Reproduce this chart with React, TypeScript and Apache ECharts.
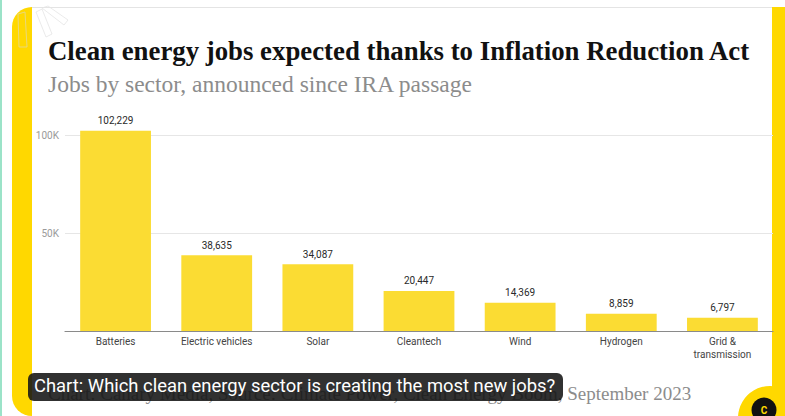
import React, { useEffect, useRef } from "react";
import * as echarts from "echarts";

const categories = [
  "Batteries",
  "Electric vehicles",
  "Solar",
  "Cleantech",
  "Wind",
  "Hydrogen",
  "Grid &\ntransmission",
];
const jobs = [102229, 38635, 34087, 20447, 14369, 8859, 6797];
const yMin = 0;
const yMax = 100000;
const yInterval = 50000;

const titleText = "Clean energy jobs expected thanks to Inflation Reduction Act";
const subtitleText = "Jobs by sector, announced since IRA passage";
const sourceText =
  "Chart: Canary Media, Source: Climate Power, Clean Energy Boom, September 2023";
const captionText = "Chart: Which clean energy sector is creating the most new jobs?";

const FRAME = "#FFD800";
const BAR = "#FBDC33";
const SERIF = "'Liberation Serif', 'DejaVu Serif', serif";
const SANS = "Roboto, 'Noto Sans', sans-serif";

export default function App() {
  const ref = useRef<HTMLDivElement>(null);
  useEffect(() => {
    if (!ref.current) return;
    const chart = echarts.init(ref.current, undefined, { renderer: "svg" });
    chart.setOption({
      animation: false,
      backgroundColor: "#ffffff",
      grid: { left: 65, right: 12, top: 135, bottom: 85, containLabel: false },
      xAxis: {
        type: "category",
        data: categories,
        axisLine: { show: true, lineStyle: { color: "#8a8a8a", width: 1.2 } },
        axisTick: { show: false },
        axisLabel: {
          color: "#444",
          fontFamily: SANS,
          fontSize: 10,
          margin: 4,
          lineHeight: 13,
          interval: 0,
        },
      },
      yAxis: {
        type: "value",
        min: yMin,
        max: yMax,
        interval: yInterval,
        axisLine: { show: false },
        axisTick: { show: false },
        splitLine: { lineStyle: { color: "#e6e6e6", width: 1 } },
        axisLabel: {
          color: "#9a9a9a",
          fontFamily: SANS,
          fontSize: 10,
          margin: 6,
          formatter: (v: number) => (v === 0 ? "" : v / 1000 + "K"),
        },
      },
      series: [
        {
          type: "bar",
          data: jobs,
          clip: false,
          barWidth: "70%",
          itemStyle: { color: BAR },
          label: {
            show: true,
            position: "top",
            distance: 5,
            color: "#2a2a2a",
            fontFamily: SANS,
            fontSize: 10,
            fontWeight: "normal",
            formatter: (p: any) => Number(p.value).toLocaleString("en-US"),
          },
          z: 3,
        },
      ],
      graphic: [
        // yellow frame
        {
          type: "rect",
          z: -20,
          silent: true,
          shape: { x: 12, y: 7, width: 810, height: 409, r: [20, 0, 0, 20] },
          style: { fill: FRAME },
        },
        // white card
        {
          type: "rect",
          z: -19,
          silent: true,
          shape: { x: 32, y: 7, width: 740, height: 420, r: 0 },
          style: { fill: "#ffffff" },
        },
        // top grey edge
        {
          type: "line",
          z: -18,
          silent: true,
          shape: { x1: 32, y1: 7.5, x2: 772, y2: 7.5 },
          style: { stroke: "#e4e4e4", lineWidth: 1 },
        },
        // left mint edge
        {
          type: "rect",
          z: -18,
          silent: true,
          shape: { x: 0, y: 0, width: 2, height: 416 },
          style: { fill: "#9be3c8" },
        },
        // faint logo rays
        {
          type: "polygon",
          z: -17,
          silent: true,
          shape: { points: [[18, 14], [25, 12], [27, 47], [19, 47]] },
          style: { fill: "none", stroke: "#e2d89a", lineWidth: 0.8 },
        },
        {
          type: "polygon",
          z: -17,
          silent: true,
          shape: { points: [[36, 12], [42, 9], [52, 34], [46, 37]] },
          style: { fill: "none", stroke: "#e4e4e4", lineWidth: 0.8 },
        },
        {
          type: "polygon",
          z: -17,
          silent: true,
          shape: { points: [[42, 8], [48, 6], [68, 20], [64, 25]] },
          style: { fill: "none", stroke: "#e4e4e4", lineWidth: 0.8 },
        },
        // title
        {
          type: "text",
          left: 48,
          top: 37,
          style: {
            text: titleText,
            fill: "#111",
            font: `bold 26.8px ${SERIF}`,
          },
        },
        {
          type: "text",
          left: 48,
          top: 72,
          style: {
            text: subtitleText,
            fill: "#8c8c8c",
            font: `23.5px ${SERIF}`,
          },
        },
        // source
        {
          type: "text",
          left: 48,
          top: 384,
          style: {
            text: sourceText,
            fill: "#8c8c8c",
            font: `19px ${SERIF}`,
          },
        },
        // caption overlay
        {
          type: "rect",
          z: 100,
          silent: true,
          shape: { x: 28, y: 373, width: 535, height: 28, r: 6 },
          style: { fill: "rgba(20,20,20,0.88)" },
        },
        {
          type: "text",
          z: 101,
          left: 34,
          top: 376,
          style: {
            text: captionText,
            fill: "#ffffff",
            font: `18.4px ${SANS}`,
          },
        },
        // bottom right badge
        {
          type: "circle",
          z: 50,
          silent: true,
          shape: { cx: 770, cy: 418, r: 32 },
          style: { fill: FRAME },
        },
        {
          type: "circle",
          z: 51,
          silent: true,
          shape: { cx: 764, cy: 410, r: 12.5 },
          style: { fill: "#111" },
        },
        {
          type: "text",
          z: 52,
          x: 764,
          y: 410,
          style: {
            text: "C",
            fill: FRAME,
            font: `bold 10px ${SANS}`,
            align: "center",
            verticalAlign: "middle",
          },
        },
      ],
    });
    return () => chart.dispose();
  }, []);
  return (
    <div
      ref={ref}
      style={{ position: "absolute", left: 0, top: 0, width: 785, height: 416 }}
    />
  );
}
